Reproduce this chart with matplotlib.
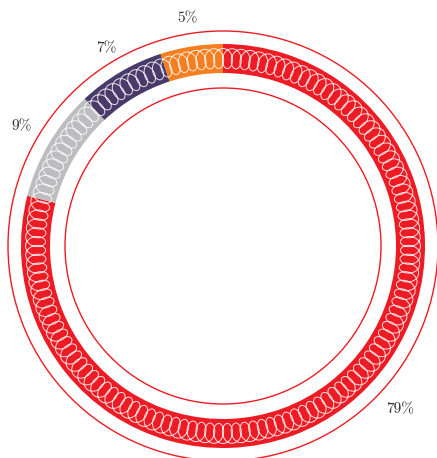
import numpy as np
import matplotlib
matplotlib.use("Agg")
import matplotlib.pyplot as plt
from matplotlib.patches import Circle

# segment values, clockwise from 12 o'clock
labels = ["79%", "9%", "7%", "5%"]
values = [79, 9, 7, 5]
colors = ["#ED1C24", "#BDBCBF", "#4A3A6A", "#F47E20"]

W, H = 437, 458
cx, cy = 223, H - 246
r_out, band = 202, 29
r_mid = r_out - band / 2

fig = plt.figure(figsize=(W / 100, H / 100), dpi=100)
ax = fig.add_axes([0, 0, 1, 1])

ax.pie(values, colors=colors, startangle=90, counterclock=False,
       radius=r_out, center=(cx, cy),
       wedgeprops=dict(width=band, linewidth=0))

# thin guide circles
for r in (215, 158):
    ax.add_patch(Circle((cx, cy), r, fill=False, edgecolor="#ED1C24", lw=1.0))

# white coil running along the ring
n_loops = 132
t = np.linspace(0, 2 * np.pi * n_loops, 30000)
pitch = 2 * np.pi * r_mid / n_loops
s = pitch * t / (2 * np.pi) + 7.2 * np.sin(t)
h = 10.0 * np.cos(t)
ang = s / r_mid
ax.plot(cx + (r_mid + h) * np.cos(ang), cy + (r_mid + h) * np.sin(ang),
        color="white", lw=0.7, alpha=0.85)

# percentage labels
total = sum(values)
start = 90.0
label_r = [None, 234, 230, 230]
for i, (lab, v) in enumerate(zip(labels, values)):
    mid = start - 360 * v / total / 2
    start -= 360 * v / total
    if label_r[i] is None:
        a, rr = np.radians(-42.8), 241
    else:
        a, rr = np.radians(mid), label_r[i]
    ax.text(cx + rr * np.cos(a), cy + rr * np.sin(a), lab, family="cmr10",
            fontsize=11, color="#333333", ha="center", va="center")

ax.set_xlim(0, W)
ax.set_ylim(0, H)
ax.set_aspect("equal")
ax.axis("off")
fig.savefig("out.png", dpi=100)
